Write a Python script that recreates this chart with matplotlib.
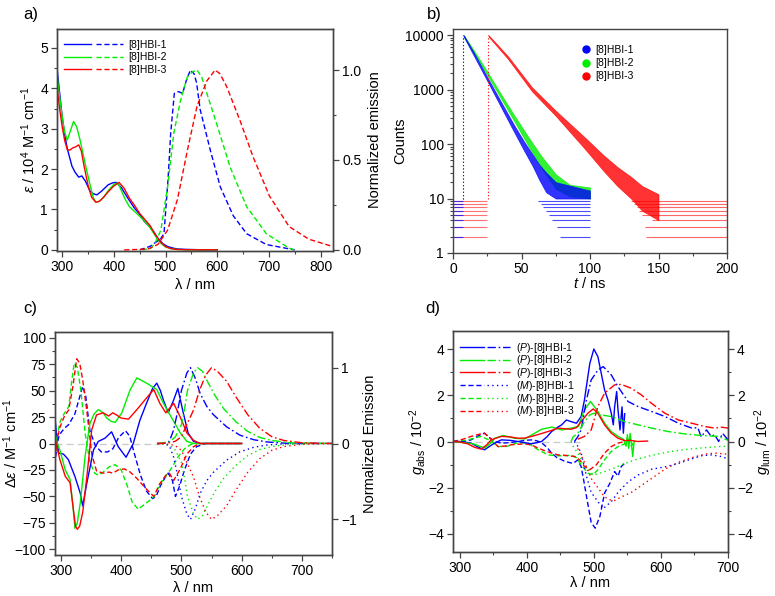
import matplotlib
matplotlib.use("Agg")
import matplotlib.pyplot as plt
from matplotlib.lines import Line2D
from matplotlib.legend_handler import HandlerTuple
from matplotlib.ticker import MultipleLocator, FixedLocator, NullFormatter, LogLocator

plt.rcParams['font.family'] = ['Liberation Sans', 'DejaVu Sans']
plt.rcParams['mathtext.fontset'] = 'custom'
plt.rcParams['mathtext.rm'] = 'Liberation Sans'
plt.rcParams['mathtext.it'] = 'Liberation Sans:italic'
plt.rcParams['mathtext.bf'] = 'Liberation Sans:bold'

BLUE, GREEN, RED = '#0000ff', '#00ee00', '#ff0000'
COLORS = [BLUE, GREEN, RED]
NAMES = ['[8]HBI-1', '[8]HBI-2', '[8]HBI-3']

# ---------------- panel a: absorption (left) and emission (right) ----------------
abs1_wl = [290, 295, 300, 305, 310, 319, 325, 332, 338, 345, 354, 360, 367, 376, 389, 398, 405, 415, 427, 440,
           450, 459, 469, 477, 485, 495, 504, 515, 523, 540, 570, 600]
abs1 = [4.5, 3.9, 3.3, 2.85, 2.5, 2.07, 1.92, 1.8, 1.83, 1.7, 1.45, 1.39, 1.36, 1.45, 1.61, 1.66, 1.67, 1.53, 1.28,
        1.03, 0.88, 0.70, 0.58, 0.45, 0.29, 0.15, 0.08, 0.04, 0.02, 0.01, 0.0, 0.0]
abs2_wl = [290, 295, 300, 305, 310, 316, 322, 328, 335, 345, 355, 360, 365, 372, 380, 390, 400, 405, 410, 415, 422,
           430, 440, 450, 460, 470, 480, 490, 500, 510, 520, 540, 600]
abs2 = [4.35, 3.8, 3.3, 2.9, 2.72, 2.95, 3.18, 3.05, 2.7, 2.1, 1.55, 1.3, 1.18, 1.2, 1.3, 1.48, 1.62, 1.65, 1.6,
        1.45, 1.25, 1.07, 0.95, 0.83, 0.7, 0.55, 0.35, 0.17, 0.07, 0.03, 0.01, 0.0, 0.0]
abs3_wl = [290, 295, 300, 305, 310, 315, 320, 326, 332, 337, 342, 350, 357, 365, 372, 380, 390, 400, 410, 420, 430,
           440, 450, 460, 470, 480, 490, 500, 510, 520, 540, 600]
abs3 = [4.05, 3.5, 3.05, 2.7, 2.48, 2.47, 2.52, 2.55, 2.6, 2.45, 2.1, 1.6, 1.3, 1.18, 1.2, 1.3, 1.45, 1.58, 1.67,
        1.52, 1.28, 1.1, 0.9, 0.75, 0.6, 0.38, 0.2, 0.08, 0.03, 0.01, 0.0, 0.0]

em1_wl = [450, 460, 470, 480, 490, 497, 505, 510, 517, 525, 533, 540, 548, 555, 560, 567, 587, 606, 631, 657, 695, 750]
em1 = [0.0, 0.01, 0.02, 0.04, 0.06, 0.09, 0.4, 0.65, 0.87, 0.88, 0.87, 0.94, 1.0, 0.98, 0.93, 0.78, 0.55, 0.35,
       0.19, 0.09, 0.03, 0.0]
em2_wl = [455, 465, 472, 480, 491, 504, 516, 529, 542, 552, 561, 570, 580, 599, 625, 657, 695, 739, 750]
em2 = [0.0, 0.005, 0.01, 0.04, 0.11, 0.35, 0.65, 0.83, 0.96, 0.99, 1.0, 0.96, 0.87, 0.70, 0.46, 0.24, 0.09,
       0.01, 0.0]
em3_wl = [420, 440, 466, 485, 504, 523, 542, 561, 580, 596, 605, 618, 644, 669, 701, 739, 777, 822]
em3 = [0.0, 0.002, 0.005, 0.03, 0.11, 0.28, 0.55, 0.8, 0.94, 1.0, 0.98, 0.91, 0.72, 0.52, 0.30, 0.13, 0.06, 0.02]

# ---------------- panel b: fluorescence decays ----------------
b1_t = [7.8, 15, 25, 35, 45, 52, 58, 63, 68, 75, 100]
b1_hi = [10000, 4900, 1700, 600, 215, 110, 65, 42, 30, 20, 14]
b1_lo = [9400, 4300, 1450, 480, 160, 75, 40, 22, 13, 10, 10]
b2_t = [8, 15, 25, 35, 45, 55, 65, 75, 85, 100]
b2_hi = [10000, 5400, 2150, 830, 330, 135, 58, 28, 18, 16]
b2_lo = [9400, 4800, 1850, 690, 255, 92, 35, 15, 11, 10]
b3_t = [26, 40, 57.7, 75, 96.6, 110, 120, 130, 138, 150]
b3_hi = [10000, 4150, 1100, 410, 130, 62, 38, 25, 17, 12]
b3_lo = [9400, 3700, 930, 330, 80, 32, 17, 10, 6, 4]
b_rise = [7.3, 7.3, 25.4]
floor_levels = [2, 3, 4, 5, 6, 7, 8, 9]
blue_pre_end = 7.0
red_pre_end = 25.0
blue_post_start = [78, 76, 72, 70, 68, 66, 64, 62]
blue_post_end = 100
red_post_start = [141, 140, 145, 138, 136, 134, 132, 130]
red_post_end = 200

# ---------------- panel c: CD (left) and CPL (right) ----------------
cd1s_wl = [290, 293, 296, 304, 312, 323, 332, 336, 343, 354, 362, 373, 384, 395, 408, 420, 431, 442, 452, 459,
           465, 470, 478, 487, 494, 503, 511, 520, 531, 545, 600]
cd1s = [25, 5, -9, -10, -15, -31, -47, -59, -37, -6, 2, 5, 11, -3, -13, 0, 22, 38, 52, 57, 50, 41, 29, 41, 52,
        29, 10, 2, 0, 0, 0]
cd1d_wl = [290, 293, 297, 305, 313, 323, 330, 336, 341, 348, 357, 367, 377, 386, 396, 407, 414, 422, 432, 442,
           452, 458, 465, 472, 478, 485, 490, 497, 505, 515, 525, 540, 600]
cd1d = [-20, -2, 8, 14, 18, 28, 42, 54, 45, 12, -2, -8, -8, -5, 6, 12, 7, -10, -30, -45, -52, -50, -40, -33, -28,
        -35, -50, -40, -25, -10, -3, 0, 0]
cd2s_wl = [290, 294, 298, 307, 315, 320, 323, 327, 332, 340, 348, 355, 362, 370, 376, 383, 390, 401, 415, 426, 442,
           459, 470, 478, 487, 498, 509, 520, 540, 600]
cd2s = [10, 0, -6, -25, -34, -60, -80, -75, -56, -12, 19, 28, 32, 29, 24, 21, 20, 29, 51, 62, 57, 51, 38, 30, 21,
        10, 2, 0, 0, 0]
cd2d_wl = [290, 294, 298, 305, 313, 318, 322, 327, 333, 340, 348, 356, 362, 370, 380, 390, 400, 410, 418, 428,
           440, 455, 465, 475, 485, 495, 505, 515, 525, 540, 600]
cd2d = [-10, 8, 20, 28, 35, 60, 76, 72, 50, 10, -18, -28, -30, -27, -22, -20, -25, -40, -55, -62, -57, -50, -38,
        -30, -22, -12, -5, -1, 0, 0, 0]
cd3s_wl = [290, 294, 298, 307, 315, 320, 324, 327, 331, 336, 343, 351, 359, 370, 379, 386, 392, 400, 412, 426, 442,
           454, 464, 474, 487, 498, 509, 520, 531, 545, 600]
cd3s = [5, -5, -15, -31, -37, -60, -78, -81, -78, -65, -31, 13, 27, 29, 26, 29, 27, 24, 23, 32, 43, 51, 38, 29, 38,
        25, 10, 3, 0, 0, 0]
cd3d_wl = [290, 294, 298, 305, 313, 320, 326, 331, 336, 343, 351, 359, 370, 380, 386, 395, 405, 415, 426, 440, 454,
           464, 474, 480, 487, 498, 509, 520, 531, 545, 600]
cd3d = [-15, 5, 15, 25, 32, 55, 80, 76, 60, 30, -10, -26, -28, -27, -28, -25, -24, -27, -33, -42, -50, -38, -30,
        -28, -35, -24, -10, -3, 0, 0, 0]

cpl1_wl = [460, 470, 480, 487, 492, 500, 509, 515, 523, 531, 542, 553, 575, 597, 620, 642, 680, 750]
cpl1p = [0, 0.0, 0.03, 0.18, 0.36, 0.7, 0.93, 1.0, 0.86, 0.66, 0.49, 0.38, 0.22, 0.11, 0.05, 0.02, 0.0, 0.0]
cpl1m = [0, 0.0, -0.03, -0.18, -0.36, -0.7, -0.93, -1.0, -0.86, -0.66, -0.49, -0.38, -0.22, -0.11, -0.05, -0.02,
         0.0, 0.0]
cpl2_wl = [460, 480, 490, 500, 505, 510, 520, 527, 535, 545, 555, 570, 590, 610, 630, 650, 680, 750]
cpl2p = [0, 0.02, 0.09, 0.25, 0.45, 0.7, 0.93, 1.0, 0.95, 0.79, 0.64, 0.46, 0.29, 0.16, 0.08, 0.04, 0.01, 0]
cpl2m = [0, -0.02, -0.09, -0.25, -0.45, -0.7, -0.93, -1.0, -0.95, -0.79, -0.64, -0.46, -0.29, -0.16, -0.08, -0.04,
         -0.01, 0]
cpl3_wl = [460, 480, 490, 500, 510, 520, 530, 540, 550, 560, 575, 590, 610, 630, 650, 670, 700, 750]
cpl3p = [0, 0.01, 0.03, 0.09, 0.27, 0.44, 0.7, 0.9, 1.0, 0.95, 0.82, 0.62, 0.38, 0.2, 0.09, 0.04, 0.01, 0]
cpl3m = [0, -0.01, -0.03, -0.09, -0.27, -0.44, -0.7, -0.9, -1.0, -0.95, -0.82, -0.62, -0.38, -0.2, -0.09, -0.04,
         -0.01, 0]
baseline_c = [290, 465]

# ---------------- panel d: g_abs (left) and g_lum (right) ----------------
gP1_wl = [290, 300, 317, 328, 337, 345, 352, 362, 375, 387, 397, 407, 415, 422, 430, 437, 445, 452, 459, 466, 474,
          481, 486, 490, 494, 500, 506, 511, 516, 521, 526, 529, 531, 534, 536, 539, 542, 544, 546]
gP1 = [0, 0, -0.07, -0.25, -0.36, -0.2, -0.07, 0.07, 0.05, 0.0, -0.05, -0.1, -0.05, 0.0, 0.2, 0.43, 0.6, 0.72,
       0.93, 0.86, 0.79, 1.08, 1.8, 2.6, 3.38, 4.0, 3.67, 2.95, 2.23, 1.8, 1.22, 0.72, 1.51, 2.16, 1.37, 0.5, 1.5,
       0.36, 1.2]
gP2_wl = [290, 305, 320, 337, 345, 352, 365, 382, 397, 412, 422, 437, 452, 466, 477, 486, 495, 506, 516, 526, 536,
          544, 548, 550, 552, 554, 556, 558, 560]
gP2 = [0, -0.05, -0.1, -0.28, -0.1, 0.14, 0.26, 0.14, 0.11, 0.36, 0.53, 0.62, 0.5, 0.58, 0.65, 1.37, 1.73, 1.3,
       0.79, 0.43, 0.22, 0.1, -0.2, 0.3, -0.3, 0.35, -0.1, -0.65, 0.0]
gP3_wl = [290, 300, 312, 322, 332, 340, 347, 362, 375, 387, 397, 407, 417, 427, 437, 447, 457, 466, 474, 481, 491,
          499, 506, 516, 526, 536, 546, 555, 565, 580]
gP3 = [0, -0.02, -0.1, -0.25, -0.33, -0.15, 0.07, 0.22, 0.2, 0.14, 0.15, 0.22, 0.3, 0.39, 0.48, 0.58, 0.55, 0.53,
       0.6, 0.86, 1.22, 1.41, 1.22, 0.72, 0.36, 0.14, 0.04, 0.05, 0.0, 0.02]
gM1_wl = [290, 305, 317, 328, 337, 345, 352, 362, 375, 387, 397, 407, 415, 422, 430, 437, 445, 457, 469, 476, 481,
          485, 489, 496, 502, 509, 516, 524, 531, 536, 541, 546]
gM1 = [0, 0.0, 0.07, 0.25, 0.36, 0.15, 0.0, -0.07, -0.05, 0.0, 0.05, 0.07, 0.03, -0.05, -0.25, -0.5, -0.7, -0.86,
       -0.95, -0.8, -1.08, -1.7, -2.37, -3.5, -3.75, -3.24, -2.23, -1.8, -1.3, -1.5, -1.08, -0.94]
gM2_wl = [290, 310, 322, 332, 345, 357, 372, 387, 402, 417, 432, 447, 466, 474, 481, 491, 499, 506, 516, 526, 536,
          546, 552, 556, 560]
gM2 = [0, 0.05, 0.15, 0.22, 0.05, -0.22, -0.2, -0.05, -0.07, -0.36, -0.58, -0.62, -0.6, -0.7, -1.0, -1.37, -1.44,
       -1.22, -0.79, -0.43, -0.22, -0.1, 0.1, -0.2, 0.0]
gM3_wl = [290, 305, 317, 327, 337, 347, 357, 367, 377, 387, 397, 407, 417, 427, 437, 447, 457, 472, 479, 486, 494,
          504, 516, 526, 536, 546]
gM3 = [0, 0.1, 0.22, 0.3, 0.36, 0.1, -0.22, -0.2, -0.14, -0.12, -0.1, -0.15, -0.29, -0.4, -0.5, -0.58, -0.6,
       -0.65, -0.8, -1.08, -1.22, -1.0, -0.5, -0.22, -0.07, 0.0]

lP1_wl = [471, 476, 481, 489, 496, 506, 514, 526, 536, 551, 566, 586, 606, 626, 646, 655, 660, 668, 675, 680, 686,
          692, 700]
lP1 = [0, 0.2, 0.5, 1.8, 2.66, 3.09, 3.24, 2.88, 2.37, 1.73, 1.51, 1.3, 1.08, 0.79, 0.58, 0.6, 0.2, 0.5, 0.22,
       0.3, 0.0, 0.35, 0.07]
lM1_wl = [471, 476, 481, 489, 496, 506, 514, 526, 536, 551, 566, 586, 606, 626, 646, 660, 675, 690, 700]
lM1 = [0, -0.2, -0.5, -1.5, -2.2, -2.6, -2.9, -2.6, -2.2, -1.75, -1.45, -1.2, -1.1, -0.95, -0.75, -0.62, -0.58,
       -0.65, -0.75]
lP2_wl = [466, 469, 476, 486, 494, 500, 511, 526, 546, 566, 586, 611, 635, 660, 686, 700]
lP2 = [0, 0.2, 0.36, 0.86, 1.15, 1.22, 1.15, 1.08, 0.86, 0.72, 0.58, 0.43, 0.33, 0.26, 0.22, 0.05]
lM2_wl = [466, 469, 476, 486, 494, 500, 511, 526, 546, 566, 586, 611, 635, 660, 686, 700]
lM2 = [0, -0.2, -0.5, -1.0, -1.3, -1.45, -1.35, -1.2, -0.95, -0.75, -0.6, -0.45, -0.35, -0.28, -0.22, -0.2]
lP3_wl = [476, 486, 496, 506, 516, 531, 541, 556, 571, 586, 606, 626, 646, 665, 680, 690, 700]
lP3 = [0.1, 0.22, 0.5, 1.51, 2.09, 2.45, 2.47, 2.3, 2.01, 1.65, 1.22, 0.93, 0.79, 0.65, 0.58, 0.62, 0.58]
lM3_wl = [476, 486, 496, 506, 516, 526, 531, 541, 556, 571, 586, 606, 626, 646, 665, 680, 700]
lM3 = [-0.3, -0.9, -1.6, -2.0, -2.4, -2.55, -2.55, -2.4, -2.2, -1.9, -1.6, -1.2, -0.9, -0.7, -0.55, -0.5, -0.55]
baseline_d = [290, 480]

# ---------------- drawing ----------------
W, H = 775, 596
fig = plt.figure(figsize=(W / 100, H / 100), dpi=100)

def box(l, t, r, b):
    return [l / W, (H - b) / H, (r - l) / W, (b - t) / H]

SPINE = '#444444'
TICK_FS = 10
LAB_FS = 10.5
LW = 1.0
DASH = (0, (3.7, 2.0))
DASHDOT = (0, (6.0, 2.0, 1.2, 2.0))
DOT = (0, (1.0, 2.4))

def style(ax):
    for s in ax.spines.values():
        s.set_color(SPINE)
        s.set_linewidth(1.0)
    ax.tick_params(which='both', direction='out', colors=SPINE, labelcolor='black', labelsize=TICK_FS, pad=2.5)
    ax.tick_params(which='major', length=4, width=0.9)
    ax.tick_params(which='minor', length=2.2, width=0.8)

# ----- a -----
ax = fig.add_axes(box(57, 29, 333, 251))
axr = ax.twinx()
for wl, v, c in zip([abs1_wl, abs2_wl, abs3_wl], [abs1, abs2, abs3], COLORS):
    ax.plot(wl, v, color=c, lw=LW)
for wl, v, c in zip([em1_wl, em2_wl, em3_wl], [em1, em2, em3], COLORS):
    axr.plot(wl, v, color=c, lw=LW, linestyle=DASH)
ax.set_xlim(290, 824)
ax.set_ylim(-0.03, 5.47)
axr.set_ylim(-0.006, 1.228)
ax.xaxis.set_major_locator(MultipleLocator(100))
ax.xaxis.set_minor_locator(MultipleLocator(50))
ax.yaxis.set_major_locator(MultipleLocator(1))
ax.yaxis.set_minor_locator(MultipleLocator(0.5))
axr.yaxis.set_major_locator(MultipleLocator(0.5))
axr.yaxis.set_minor_locator(MultipleLocator(0.25))
axr.yaxis.set_major_formatter(matplotlib.ticker.FormatStrFormatter('%.1f'))
style(ax); style(axr)
ax.set_xlabel('λ / nm', fontsize=LAB_FS)
ax.set_ylabel(r'$\varepsilon$ / 10$^{4}$ M$^{-1}$ cm$^{-1}$', fontsize=LAB_FS)
axr.set_ylabel('Normalized emission', fontsize=LAB_FS)
ax.xaxis.set_label_coords(0.5, -0.122)
ax.yaxis.set_label_coords(-0.068, 0.5)
axr.yaxis.set_label_coords(1.127, 0.5)
hands = [(Line2D([], [], color=c, lw=LW), Line2D([], [], color=c, lw=LW, linestyle=DASH)) for c in COLORS]
ax.legend(hands, NAMES, handler_map={tuple: HandlerTuple(ndivide=None, pad=0.4)}, loc='upper left',
          bbox_to_anchor=(0.0, 0.985), frameon=False, fontsize=7.5, handlelength=5.6, labelspacing=0.25,
          handletextpad=0.5, borderaxespad=0.3)
fig.text(23 / W, 1 - 15 / H, 'a)', fontsize=12, va='center', ha='left')

# ----- b -----
ax = fig.add_axes(box(453, 29, 727, 253))
ax.set_yscale('log')
for lv in floor_levels:
    ax.hlines(lv, 0, red_pre_end, color=RED, lw=0.8, alpha=0.55)
for lv, st in zip(floor_levels, red_post_start):
    ax.hlines(lv, st, red_post_end, color=RED, lw=0.8, alpha=0.6)
for lv in floor_levels:
    ax.hlines(lv, 0, blue_pre_end, color=BLUE, lw=0.8, alpha=0.7)
for lv, st in zip(floor_levels, blue_post_start):
    ax.hlines(lv, st, blue_post_end, color=BLUE, lw=0.8, alpha=0.7)
ax.fill_between(b3_t, b3_lo, b3_hi, color=RED, lw=0.5, alpha=0.8)
ax.fill_between(b2_t, b2_lo, b2_hi, color=GREEN, lw=0.5, alpha=0.8)
ax.fill_between(b1_t, b1_lo, b1_hi, color=BLUE, lw=0.5, alpha=0.8)
for tr, c in zip(b_rise, [GREEN, BLUE, RED]):
    ax.vlines(tr, 10, 10000, color=c, lw=0.8, linestyle=(0, (1, 2)))
ax.set_xlim(0, 200)
ax.set_ylim(1, 13000)
ax.xaxis.set_major_locator(MultipleLocator(50))
ax.xaxis.set_minor_locator(MultipleLocator(25))
ax.set_yticks([1, 10, 100, 1000, 10000])
ax.set_yticklabels(['1', '10', '100', '1000', '10000'])
ax.yaxis.set_minor_locator(LogLocator(base=10, subs=range(2, 10)))
ax.yaxis.set_minor_formatter(NullFormatter())
style(ax)
ax.set_xlabel(r'$t$ / ns', fontsize=LAB_FS)
ax.set_ylabel('Counts', fontsize=LAB_FS)
ax.xaxis.set_label_coords(0.5, -0.103)
ax.yaxis.set_label_coords(-0.168, 0.5)
mh = [Line2D([], [], color=c, marker='o', linestyle='none', markersize=5) for c in COLORS]
ax.legend(mh, NAMES, loc='upper left', bbox_to_anchor=(0.43, 0.97), frameon=False, fontsize=7.5,
          handletextpad=0.2, labelspacing=0.3, handlelength=1.2)
fig.text(427 / W, 1 - 15 / H, 'b)', fontsize=12, va='center', ha='left')

# ----- c -----
ax = fig.add_axes(box(55, 332, 332, 555))
axr = ax.twinx()
ax.plot(baseline_c, [0, 0], color='#cccccc', lw=1.0, linestyle=(0, (5, 3)))
for wl, v, c in zip([cd1d_wl, cd2d_wl, cd3d_wl], [cd1d, cd2d, cd3d], COLORS):
    ax.plot(wl, v, color=c, lw=LW, linestyle=DASH)
for wl, v, c in zip([cd1s_wl, cd2s_wl, cd3s_wl], [cd1s, cd2s, cd3s], COLORS):
    ax.plot(wl, v, color=c, lw=LW)
for wl, p, m, c in zip([cpl1_wl, cpl2_wl, cpl3_wl], [cpl1p, cpl2p, cpl3p], [cpl1m, cpl2m, cpl3m], COLORS):
    axr.plot(wl, p, color=c, lw=LW, linestyle=DASHDOT)
    axr.plot(wl, m, color=c, lw=LW, linestyle=DOT)
ax.set_xlim(290, 750)
ax.set_ylim(-105.3, 105.3)
axr.set_ylim(-1.47, 1.47)
ax.xaxis.set_major_locator(MultipleLocator(100))
ax.xaxis.set_minor_locator(MultipleLocator(50))
ax.yaxis.set_major_locator(MultipleLocator(25))
ax.yaxis.set_minor_locator(MultipleLocator(12.5))
axr.yaxis.set_major_locator(FixedLocator([-1, 0, 1]))
style(ax); style(axr)
ax.set_xlabel('λ / nm', fontsize=LAB_FS)
ax.set_ylabel(r'$\mathit{Δε}$ / M$^{-1}$ cm$^{-1}$', fontsize=LAB_FS)
axr.set_ylabel('Normalized Emission', fontsize=LAB_FS)
ax.xaxis.set_label_coords(0.5, -0.117)
ax.yaxis.set_label_coords(-0.126, 0.5)
axr.yaxis.set_label_coords(1.112, 0.5)
fig.text(23 / W, 1 - 308 / H, 'c)', fontsize=12, va='center', ha='left')

# ----- d -----
ax = fig.add_axes(box(453, 331, 728, 552))
axr = ax.twinx()
ax.plot(baseline_d, [0, 0], color='#cccccc', lw=1.0, linestyle=(0, (5, 3)))
for wl, v, c in zip([gM1_wl, gM2_wl, gM3_wl], [gM1, gM2, gM3], COLORS):
    ax.plot(wl, v, color=c, lw=LW, linestyle=DASH)
for wl, v, c in zip([gP1_wl, gP2_wl, gP3_wl], [gP1, gP2, gP3], COLORS):
    ax.plot(wl, v, color=c, lw=LW)
for wl, v, c in zip([lP1_wl, lP2_wl, lP3_wl], [lP1, lP2, lP3], COLORS):
    axr.plot(wl, v, color=c, lw=LW, linestyle=DASHDOT)
for wl, v, c in zip([lM1_wl, lM2_wl, lM3_wl], [lM1, lM2, lM3], COLORS):
    axr.plot(wl, v, color=c, lw=LW, linestyle=DOT)
ax.set_xlim(290, 700)
ax.set_ylim(-4.78, 4.78)
axr.set_ylim(-4.78, 4.78)
ax.xaxis.set_major_locator(MultipleLocator(100))
ax.xaxis.set_minor_locator(MultipleLocator(50))
for a in (ax, axr):
    a.yaxis.set_major_locator(MultipleLocator(2))
    a.yaxis.set_minor_locator(MultipleLocator(1))
style(ax); style(axr)
ax.set_xlabel('λ / nm', fontsize=LAB_FS)
ax.set_ylabel(r'$g_{\mathrm{abs}}$ / 10$^{-2}$', fontsize=LAB_FS)
axr.set_ylabel(r'$g_{\mathrm{lum}}$ / 10$^{-2}$', fontsize=LAB_FS)
ax.xaxis.set_label_coords(0.5, -0.109)
ax.yaxis.set_label_coords(-0.087, 0.5)
axr.yaxis.set_label_coords(1.09, 0.5)
hP = [(Line2D([], [], color=c, lw=LW), Line2D([], [], color=c, lw=LW, linestyle=DASHDOT)) for c in COLORS]
hM = [(Line2D([], [], color=c, lw=LW, linestyle=DASH), Line2D([], [], color=c, lw=LW, linestyle=DOT)) for c in COLORS]
labs = [r'($\mathit{P}$)-' + n for n in NAMES] + [r'($\mathit{M}$)-' + n for n in NAMES]
ax.legend(hP + hM, labs, handler_map={tuple: HandlerTuple(ndivide=None, pad=0.3)}, loc='upper left',
          bbox_to_anchor=(0.0, 0.99), frameon=False, fontsize=7.5, handlelength=4.8, labelspacing=-0.12,
          handletextpad=0.5, borderaxespad=0.3)
fig.text(425 / W, 1 - 308 / H, 'd)', fontsize=12, va='center', ha='left')

fig.savefig('out.png', dpi=100)
